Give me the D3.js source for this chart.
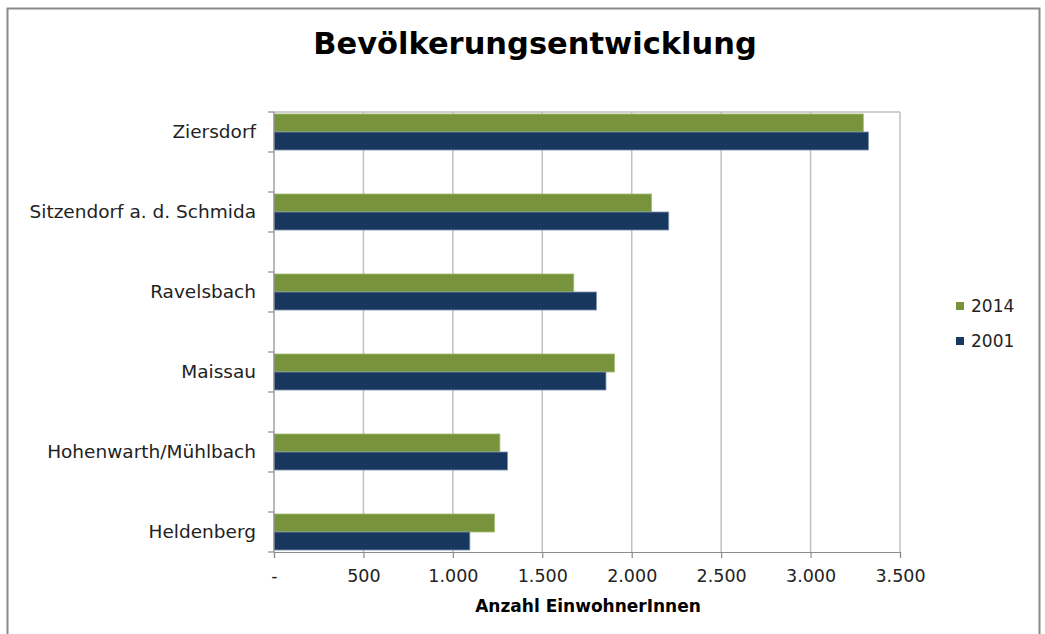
<!DOCTYPE html>
<html lang="de">
<head>
  <meta charset="UTF-8">
  <title>Bevölkerungsentwicklung</title>
  <style>
    body { margin: 0; background: #fff; }
    text { font-family: "DejaVu Sans", sans-serif; fill: #222; }
  </style>
</head>
<body>
<script src="https://cdn.jsdelivr.net/npm/d3@7"></script>
<script>
  // data
  const gemeinden = ["Ziersdorf", "Sitzendorf a. d. Schmida", "Ravelsbach", "Maissau", "Hohenwarth/Mühlbach", "Heldenberg"];
  const werte2014 = [3295, 2111, 1676, 1904, 1263, 1233];
  const werte2001 = [3324, 2207, 1803, 1856, 1306, 1095];
  const serien = ["2014", "2001"];
  const farben = ["#77933c", "#17375e"];
  const randFarben = ["#a3bd72", "#7f93ad"];
  const xTicks = [0, 500, 1000, 1500, 2000, 2500, 3000, 3500];

  const w = 1045, h = 634;
  const plot = {left: 274, top: 112, right: 900, bottom: 552};

  const svg = d3.select("body").append("svg")
      .attr("width", w)
      .attr("height", h);

  // outer frame
  svg.append("rect")
      .attr("x", 7.5).attr("y", 8.5)
      .attr("width", 1032).attr("height", 640)
      .attr("fill", "#fff")
      .attr("stroke", "#8a8a8a")
      .attr("stroke-width", 2);

  svg.append("text")
      .attr("x", 535).attr("y", 54)
      .attr("text-anchor", "middle")
      .attr("font-size", 30.5)
      .attr("font-weight", 700)
      .style("fill", "#000")
      .text("Bevölkerungsentwicklung");

  const x = d3.scaleLinear()
      .domain([0, 3500])
      .range([plot.left, plot.right]);

  // every category gets a slot, with an empty slot between two of them
  const slots = d3.range(gemeinden.length * 2 - 1);
  const y = d3.scaleBand()
      .domain(slots)
      .range([plot.top, plot.bottom]);

  const inner = d3.scaleBand()
      .domain(serien)
      .range([0, y.bandwidth()])
      .paddingOuter(0.11);

  // gridlines
  svg.append("g")
      .selectAll("line")
      .data(xTicks.slice(1))
      .join("line")
      .attr("x1", d => x(d)).attr("x2", d => x(d))
      .attr("y1", plot.top).attr("y2", plot.bottom)
      .attr("stroke", "#c0c0c0")
      .attr("stroke-width", 1.5);

  svg.append("line")
      .attr("x1", plot.left).attr("x2", plot.right)
      .attr("y1", plot.top).attr("y2", plot.top)
      .attr("stroke", "#c0c0c0").attr("stroke-width", 1.5);

  // bars
  const reihen = [werte2014, werte2001];
  const bars = svg.append("g");
  reihen.forEach((werte, s) => {
    bars.append("g")
        .selectAll("rect")
        .data(werte)
        .join("rect")
        .attr("x", x(0))
        .attr("y", (d, i) => y(i * 2) + inner(serien[s]))
        .attr("width", d => x(d) - x(0))
        .attr("height", inner.bandwidth())
        .attr("fill", farben[s])
        .attr("stroke", randFarben[s])
        .attr("stroke-width", 0.8);
  });

  // y axis: ticks on every slot edge
  const yEdges = slots.map(s => y(s)).concat([plot.bottom]);
  const yAx = svg.append("g");
  yAx.append("line")
      .attr("x1", plot.left).attr("x2", plot.left)
      .attr("y1", plot.top).attr("y2", plot.bottom)
      .attr("stroke", "#8c8c8c").attr("stroke-width", 1.2);
  yAx.selectAll(".tk")
      .data(yEdges)
      .join("line")
      .attr("x1", plot.left - 6).attr("x2", plot.left)
      .attr("y1", d => d).attr("y2", d => d)
      .attr("stroke", "#8c8c8c").attr("stroke-width", 1.2);
  yAx.selectAll("text")
      .data(gemeinden)
      .join("text")
      .attr("x", 256)
      .attr("y", (d, i) => y(i * 2) + y.bandwidth() / 2)
      .attr("dy", "0.35em")
      .attr("text-anchor", "end")
      .attr("font-size", 18.5)
      .text(d => d);

  // x axis
  const xAxis = d3.axisBottom(x)
      .tickValues(xTicks)
      .tickSize(6)
      .tickPadding(12)
      .tickFormat(d => d === 0 ? "-" : d3.format(",")(d).replace(/,/g, "."));
  const xg = svg.append("g")
      .attr("transform", `translate(0,${plot.bottom})`)
      .call(xAxis);
  xg.select(".domain").attr("stroke", "#8c8c8c").attr("stroke-width", 1.2);
  xg.selectAll(".tick line").attr("stroke", "#8c8c8c").attr("stroke-width", 1.2);
  xg.selectAll(".tick text")
      .attr("font-size", 17.5)
      .style("font-family", "'DejaVu Sans', sans-serif")
      .style("fill", "#222");

  svg.append("text")
      .attr("x", 588).attr("y", 612)
      .attr("text-anchor", "middle")
      .attr("font-size", 17)
      .attr("font-weight", 700)
      .style("fill", "#000")
      .text("Anzahl EinwohnerInnen");

  // legend
  const leg = svg.append("g")
      .selectAll("g")
      .data(serien)
      .join("g")
      .attr("transform", (d, i) => `translate(956,${306 + i * 35})`);
  leg.append("rect")
      .attr("x", 0).attr("y", -4)
      .attr("width", 8).attr("height", 8)
      .attr("fill", (d, i) => farben[i]);
  leg.append("text")
      .attr("x", 15).attr("dy", "0.35em")
      .attr("font-size", 17)
      .text(d => d);
</script>
</body>
</html>
